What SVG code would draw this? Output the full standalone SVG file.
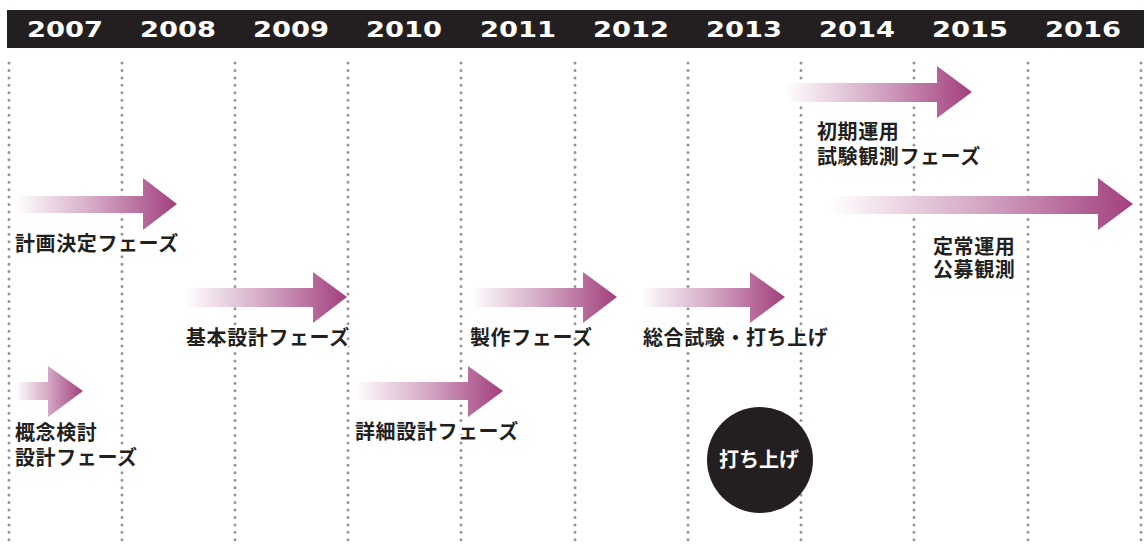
<svg xmlns="http://www.w3.org/2000/svg" width="1147" height="546" viewBox="0 0 1147 546">
<defs>
<linearGradient id="g" x1="0" y1="0" x2="1" y2="0">
<stop offset="0" stop-color="#ffffff"/>
<stop offset="0.5" stop-color="#d3a6c3"/>
<stop offset="1" stop-color="#a23f7d"/>
</linearGradient>
<style>
.yr{font-family:"DejaVu Sans","Liberation Sans",sans-serif;font-weight:bold;font-size:21px;fill:#ffffff;text-anchor:middle}
.dot{stroke:#959595;stroke-width:3;stroke-linecap:round;stroke-dasharray:0 7.45;fill:none}
.lbl{font-family:"Noto Sans CJK JP","Noto Sans",sans-serif;font-weight:bold;font-size:20px;letter-spacing:0.6px;fill:#231f20;stroke:#ffffff;stroke-width:4;stroke-linejoin:round;paint-order:stroke}
.arr{fill:url(#g)}
.wt{font-family:"Noto Sans CJK JP","Noto Sans",sans-serif;font-weight:bold;font-size:20px;fill:#ffffff;text-anchor:middle}
</style>
</defs>
<rect width="1147" height="546" fill="#ffffff"/>
<g id="header">
<rect x="7" y="10" width="1137" height="38" fill="#231f20"/>
<text class="yr" x="65" y="37" textLength="76" lengthAdjust="spacingAndGlyphs">2007</text>
<text class="yr" x="178" y="37" textLength="76" lengthAdjust="spacingAndGlyphs">2008</text>
<text class="yr" x="291" y="37" textLength="76" lengthAdjust="spacingAndGlyphs">2009</text>
<text class="yr" x="404" y="37" textLength="76" lengthAdjust="spacingAndGlyphs">2010</text>
<text class="yr" x="518" y="37" textLength="76" lengthAdjust="spacingAndGlyphs">2011</text>
<text class="yr" x="631" y="37" textLength="76" lengthAdjust="spacingAndGlyphs">2012</text>
<text class="yr" x="744" y="37" textLength="76" lengthAdjust="spacingAndGlyphs">2013</text>
<text class="yr" x="857" y="37" textLength="76" lengthAdjust="spacingAndGlyphs">2014</text>
<text class="yr" x="970" y="37" textLength="76" lengthAdjust="spacingAndGlyphs">2015</text>
<text class="yr" x="1083" y="37" textLength="76" lengthAdjust="spacingAndGlyphs">2016</text>
</g>
<g id="connectors">
<line class="dot" x1="9" y1="63" x2="9" y2="546"/>
<line class="dot" x1="122" y1="63" x2="122" y2="546"/>
<line class="dot" x1="235" y1="63" x2="235" y2="546"/>
<line class="dot" x1="348" y1="63" x2="348" y2="546"/>
<line class="dot" x1="461" y1="63" x2="461" y2="546"/>
<line class="dot" x1="575" y1="63" x2="575" y2="546"/>
<line class="dot" x1="688" y1="63" x2="688" y2="546"/>
<line class="dot" x1="801" y1="63" x2="801" y2="546"/>
<line class="dot" x1="914" y1="63" x2="914" y2="546"/>
<line class="dot" x1="1028" y1="63" x2="1028" y2="546"/>
<line class="dot" x1="1141" y1="63" x2="1141" y2="546"/>
</g>
<g id="phase-keikaku">
<path class="arr" d="M15,196 H143 V178 L177,204 L143,230 V213 H15 Z"/>
<text class="lbl" x="15" y="251">計画決定フェーズ</text>
</g>
<g id="phase-gainen">
<path class="arr" d="M15,382 H48 V366 L83,391 L48,417 V400 H15 Z"/>
<text class="lbl" x="15" y="440">概念検討<tspan x="15" dy="25">設計フェーズ</tspan></text>
</g>
<g id="phase-kihon">
<path class="arr" d="M185,288 H313 V272 L347,297 L313,323 V307 H185 Z"/>
<text class="lbl" x="186" y="345">基本設計フェーズ</text>
</g>
<g id="phase-shosai">
<path class="arr" d="M355,382 H468 V366 L503,391 L468,417 V400 H355 Z"/>
<text class="lbl" x="355" y="439">詳細設計フェーズ</text>
</g>
<g id="phase-seisaku">
<path class="arr" d="M470,288 H583 V272 L617,297 L583,323 V307 H470 Z"/>
<text class="lbl" x="470" y="345">製作フェーズ</text>
</g>
<g id="phase-sougou">
<path class="arr" d="M640,288 H750 V272 L785,297 L750,323 V307 H640 Z"/>
<text class="lbl" x="643" y="345" letter-spacing="0">総合試験・打ち上げ</text>
</g>
<g id="launch">
<circle cx="760" cy="460" r="53" fill="#231f20"/>
<text class="wt" x="759" y="467">打ち上げ</text>
</g>
<g id="phase-shoki">
<path class="arr" d="M785,83 H937 V66 L972,92 L937,118 V102 H785 Z"/>
<text class="lbl" x="817" y="139">初期運用<tspan x="817" dy="25">試験観測フェーズ</tspan></text>
</g>
<g id="phase-teijou">
<path class="arr" d="M830,196 H1098 V178 L1133,204 L1098,230 V214 H830 Z"/>
<text class="lbl" x="933" y="254">定常運用<tspan x="933" dy="23">公募観測</tspan></text>
</g>
</svg>
